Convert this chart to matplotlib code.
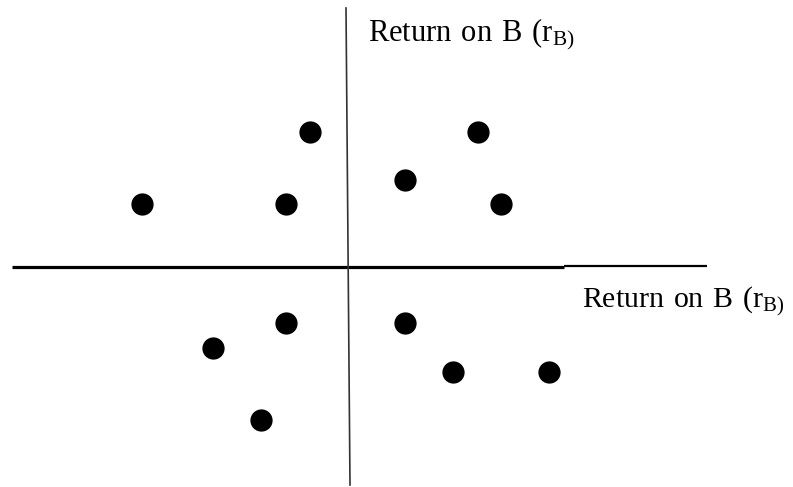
import matplotlib.pyplot as plt

# scatter of returns, origin at the crossing of the axes
ret_x = [-38, 130, 57, -206, -62, 153, -62, 57, -135, 105, 201, -87]
ret_y = [135, 135, 87, 63, 63, 63, -56, -56, -81, -105, -105, -153]

label_text = r'$\mathrm{Return\ on\ B\ (r_{B)}}$'

plt.rcParams['mathtext.fontset'] = 'custom'
plt.rcParams['mathtext.rm'] = 'Liberation Serif'
plt.rcParams['font.family'] = 'Liberation Serif'

fig = plt.figure(figsize=(7.93, 4.87), dpi=100)
ax = fig.add_axes([0, 0, 1, 1])
ax.set_xlim(-348, 445)
ax.set_ylim(-220, 267)
ax.axis('off')

# horizontal axis: heavier on the left, thinner tail on the right
ax.plot([-336, 216], [0, 0], color='black', lw=2.3, solid_capstyle='butt')
ax.plot([216, 359], [1, 1], color='black', lw=1.6, solid_capstyle='butt')
# vertical axis, slightly slanted
ax.plot([-2, 2], [259, -218], color='#333333', lw=1.2)

ax.plot(ret_x, ret_y, 'o', color='black', markersize=15)

ax.text(20, 226, label_text, fontsize=22, ha='left', va='baseline')
ax.text(234, -40, label_text, fontsize=21.5, ha='left', va='baseline')

fig.savefig('out.png', dpi=100)
